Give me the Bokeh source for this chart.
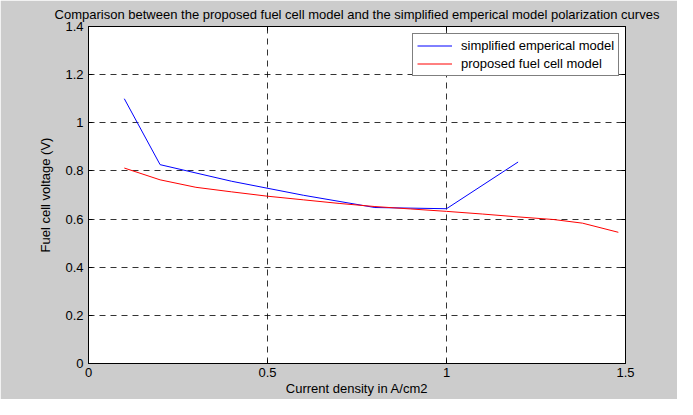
from bokeh.plotting import figure
from bokeh.models import Range1d, LinearAxis, FixedTicker, Legend, LegendItem
from bokeh.embed import file_html
from bokeh.resources import INLINE

# Data
empirical_x = [0.1, 0.2, 0.4, 0.6, 0.8, 1.0, 1.2]
empirical_y = [1.10, 0.826, 0.757, 0.699, 0.648, 0.643, 0.837]

proposed_x = [0.1, 0.2, 0.3, 0.4, 0.5, 0.6, 0.7, 0.8, 0.9, 1.0, 1.1, 1.2, 1.3, 1.38, 1.48]
proposed_y = [0.812, 0.763, 0.732, 0.713, 0.695, 0.680, 0.665, 0.652, 0.642, 0.632,
              0.621, 0.609, 0.598, 0.583, 0.545]

x_ticks = [0, 0.5, 1, 1.5]
y_ticks = [0, 0.2, 0.4, 0.6, 0.8, 1.0, 1.2, 1.4]
x_labels = {0: "0", 0.5: "0.5", 1: "1", 1.5: "1.5"}
y_labels = {0: "0", 0.2: "0.2", 0.4: "0.4", 0.6: "0.6", 0.8: "0.8", 1.0: "1", 1.2: "1.2", 1.4: "1.4"}

title_text = "Comparison between the proposed fuel cell model and the simplified emperical model polarization curves"
FONT = "Liberation Sans"
FS = "13px"

p = figure(width=677, height=399, output_backend="svg", toolbar_location=None,
           x_range=Range1d(0, 1.5), y_range=Range1d(0, 1.4),
           min_border_left=88, min_border_right=52, min_border_top=25, min_border_bottom=36,
           title=title_text)

p.border_fill_color = "#CCCCCC"
p.background_fill_color = "white"
p.outline_line_color = "black"
p.outline_line_width = 1

p.title.text_font = FONT
p.title.text_font_size = FS
p.title.text_font_style = "normal"
p.title.align = "center"
p.title.standoff = 9
p.title.text_color = "black"

for ax, ticks, labels in ((p.xaxis[0], x_ticks, x_labels), (p.yaxis[0], y_ticks, y_labels)):
    ax.ticker = FixedTicker(ticks=ticks)
    ax.major_label_overrides = labels
    ax.major_tick_in = 4
    ax.major_tick_out = 0
    ax.minor_tick_in = 0
    ax.minor_tick_out = 0
    ax.axis_line_color = "black"
    ax.major_tick_line_color = "black"
    ax.major_label_text_font = FONT
    ax.major_label_text_font_size = FS
    ax.major_label_text_color = "black"
    ax.axis_label_text_font = FONT
    ax.axis_label_text_font_size = FS
    ax.axis_label_text_font_style = "normal"
    ax.axis_label_text_color = "black"

p.xaxis.axis_label = "Current density in A/cm2"
p.yaxis.axis_label = "Fuel cell voltage (V)"
p.xaxis.major_label_standoff = 4
p.xaxis.axis_label_standoff = 1
p.yaxis.major_label_standoff = 5
p.yaxis.axis_label_standoff = 9

# Mirror ticks on top and right (box style)
top_ax = LinearAxis(ticker=FixedTicker(ticks=x_ticks), major_label_overrides={k: "" for k in x_ticks},
                    major_tick_in=4, major_tick_out=0, minor_tick_in=0, minor_tick_out=0,
                    axis_line_color="black", major_label_text_font_size="1px")
right_ax = LinearAxis(ticker=FixedTicker(ticks=y_ticks), major_label_overrides={k: "" for k in y_ticks},
                      major_tick_in=4, major_tick_out=0, minor_tick_in=0, minor_tick_out=0,
                      axis_line_color="black", major_label_text_font_size="1px")
p.add_layout(top_ax, "above")
p.add_layout(right_ax, "right")

p.xgrid.ticker = FixedTicker(ticks=x_ticks)
p.ygrid.ticker = FixedTicker(ticks=y_ticks)
for g in (p.xgrid[0], p.ygrid[0]):
    g.grid_line_color = "black"
    g.grid_line_alpha = 0.8
    g.grid_line_dash = "6 5"
    g.grid_line_width = 1

r1 = p.line(empirical_x, empirical_y, line_color="#0000FF", line_width=1)
r2 = p.line(proposed_x, proposed_y, line_color="#FF0000", line_width=1)

legend = Legend(items=[LegendItem(label="simplified emperical model", renderers=[r1]),
                       LegendItem(label="proposed fuel cell model", renderers=[r2])],
                location=(324, 287))
legend.border_line_color = "black"
legend.border_line_width = 1
legend.background_fill_color = "white"
legend.background_fill_alpha = 1
legend.label_text_font = FONT
legend.label_text_font_size = FS
legend.label_text_color = "black"
legend.glyph_width = 35
legend.glyph_height = 15
legend.label_standoff = 9
legend.label_height = 15
legend.spacing = 3
legend.padding = 4
legend.margin = 0
p.add_layout(legend, "center")

open("out.html", "w").write(file_html(p, INLINE))
